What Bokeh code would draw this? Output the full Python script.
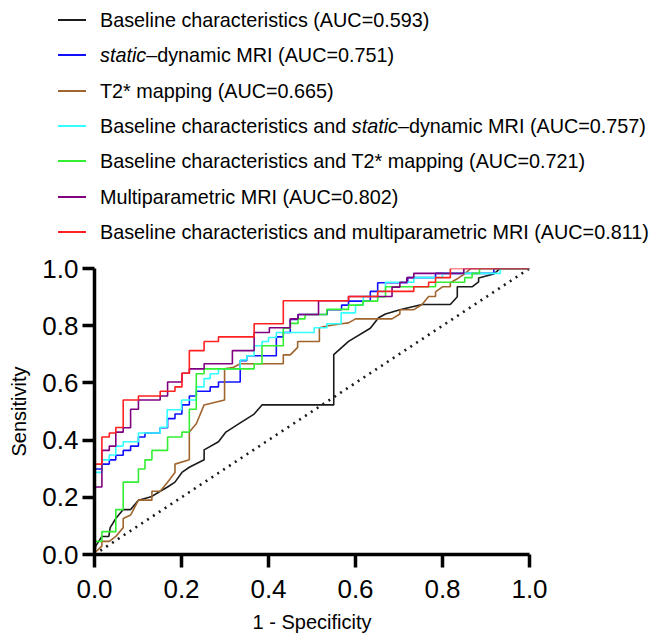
from bokeh.plotting import figure
from bokeh.layouts import column
from bokeh.models import Range1d, FixedTicker, PrintfTickFormatter, Div
from bokeh.embed import file_html
from bokeh.resources import INLINE

FONT = "Liberation Sans"

tick_values = [0.0, 0.2, 0.4, 0.6, 0.8, 1.0]

labels = [
    "Baseline characteristics (AUC=0.593)",
    "static\u2013dynamic MRI (AUC=0.751)",
    "T2* mapping (AUC=0.665)",
    "Baseline characteristics and static\u2013dynamic MRI (AUC=0.757)",
    "Baseline characteristics and T2* mapping (AUC=0.721)",
    "Multiparametric MRI (AUC=0.802)",
    "Baseline characteristics and multiparametric MRI (AUC=0.811)",
]
colors = ["#1a1a1a", "#1010ff", "#a0642d", "#33ffff", "#33ee33", "#800080", "#ff2020"]

# Baseline characteristics (polyline, has tied segments)
black_x = [0, 0.003, 0.017, 0.033, 0.036, 0.049, 0.066, 0.083, 0.101, 0.132, 0.151, 0.168, 0.185,
           0.201, 0.218, 0.252, 0.252, 0.285, 0.302, 0.335, 0.367, 0.385, 0.550, 0.550, 0.584,
           0.634, 0.653, 0.669, 0.702, 0.753, 0.818, 0.834, 0.834, 0.868, 0.883, 0.883, 0.918,
           0.933, 1.0]
black_y = [0, 0.03, 0.063, 0.063, 0.094, 0.126, 0.157, 0.157, 0.190, 0.203, 0.221, 0.236, 0.253,
           0.287, 0.305, 0.331, 0.366, 0.394, 0.428, 0.460, 0.491, 0.523, 0.523, 0.699, 0.745,
           0.791, 0.828, 0.841, 0.856, 0.874, 0.874, 0.901, 0.936, 0.936, 0.953, 0.967, 0.981,
           1.0, 1.0]

# T2* mapping (polyline)
brown_x = [0, 0.0, 0.017, 0.017, 0.034, 0.049, 0.066, 0.066, 0.083, 0.101, 0.132, 0.132, 0.151,
           0.168, 0.185, 0.185, 0.218, 0.218, 0.234, 0.252, 0.299, 0.299, 0.320, 0.335, 0.434,
           0.434, 0.450, 0.467, 0.467, 0.517, 0.517, 0.534, 0.568, 0.584, 0.600, 0.684, 0.702,
           0.702, 0.734, 0.753, 0.768, 0.784, 0.784, 0.800, 0.818, 0.818, 0.837, 0.851, 0.865, 1.0]
brown_y = [0, 0.006, 0.029, 0.046, 0.046, 0.063, 0.094, 0.126, 0.138, 0.190, 0.190, 0.221, 0.221,
           0.253, 0.287, 0.316, 0.331, 0.428, 0.457, 0.523, 0.540, 0.649, 0.655, 0.667, 0.667,
           0.698, 0.698, 0.724, 0.745, 0.745, 0.793, 0.799, 0.807, 0.810, 0.824, 0.824, 0.841,
           0.856, 0.856, 0.874, 0.902, 0.902, 0.918, 0.936, 0.936, 0.950, 0.967, 0.981, 1.0, 1.0]

# step curves: corner points (FPR where sensitivity jumps, sensitivity after jump)
blue_fpr = [0, 0, 0.017, 0.034, 0.049, 0.066, 0.083, 0.101, 0.116, 0.151, 0.168, 0.185, 0.201,
            0.218, 0.234, 0.266, 0.285, 0.335, 0.350, 0.418, 0.434, 0.450, 0.468, 0.535, 0.568,
            0.584, 0.634, 0.651, 0.720, 0.784, 0.918, 1.0]
blue_tpr = [0, 0.299, 0.316, 0.331, 0.347, 0.364, 0.379, 0.411, 0.425, 0.443, 0.475, 0.491, 0.523,
            0.554, 0.571, 0.586, 0.603, 0.678, 0.695, 0.761, 0.776, 0.822, 0.839, 0.856, 0.872,
            0.886, 0.920, 0.950, 0.968, 0.983, 1.0, 1.0]

cyan_fpr = [0, 0, 0.017, 0.034, 0.049, 0.066, 0.101, 0.151, 0.167, 0.200, 0.234, 0.252, 0.266,
            0.285, 0.335, 0.350, 0.367, 0.385, 0.400, 0.418, 0.505, 0.534, 0.567, 0.600, 0.618,
            0.651, 0.669, 0.734, 0.800, 0.933, 1.0]
cyan_tpr = [0, 0.287, 0.331, 0.348, 0.379, 0.394, 0.425, 0.445, 0.506, 0.540, 0.586, 0.615, 0.632,
            0.649, 0.680, 0.695, 0.730, 0.745, 0.759, 0.776, 0.793, 0.807, 0.845, 0.872, 0.902,
            0.920, 0.952, 0.968, 0.983, 1.0, 1.0]

green_fpr = [0, 0, 0.017, 0.049, 0.066, 0.101, 0.116, 0.132, 0.168, 0.201, 0.218, 0.234, 0.252,
             0.367, 0.385, 0.434, 0.450, 0.468, 0.484, 0.534, 0.584, 0.617, 0.651, 0.669, 0.784,
             0.851, 0.868, 0.885, 1.0]
green_tpr = [0, 0.046, 0.080, 0.157, 0.253, 0.299, 0.331, 0.364, 0.411, 0.428, 0.508, 0.632, 0.649,
             0.667, 0.730, 0.791, 0.808, 0.824, 0.839, 0.857, 0.872, 0.886, 0.901, 0.936, 0.952,
             0.968, 0.983, 1.0, 1.0]

purple_fpr = [0, 0, 0.017, 0.034, 0.049, 0.066, 0.083, 0.101, 0.151, 0.168, 0.201, 0.218, 0.252,
              0.317, 0.367, 0.402, 0.450, 0.468, 0.515, 0.584, 0.684, 0.702, 0.718, 0.734, 0.849, 1.0]
purple_tpr = [0, 0.236, 0.364, 0.379, 0.428, 0.443, 0.508, 0.540, 0.554, 0.603, 0.634, 0.649, 0.667,
              0.713, 0.776, 0.793, 0.824, 0.839, 0.887, 0.902, 0.935, 0.952, 0.968, 0.983, 1.0, 1.0]

red_fpr = [0, 0, 0.017, 0.034, 0.049, 0.066, 0.101, 0.151, 0.185, 0.201, 0.218, 0.252, 0.285,
           0.367, 0.434, 0.584, 0.651, 0.734, 0.768, 0.784, 0.818, 1.0]
red_tpr = [0, 0.316, 0.411, 0.425, 0.444, 0.540, 0.554, 0.571, 0.586, 0.634, 0.713, 0.745, 0.761,
           0.807, 0.887, 0.902, 0.920, 0.936, 0.952, 0.968, 1.0, 1.0]

ref_x = [0, 1]
ref_y = [0, 1]

W = 656
LEG_H = 250

# ---------- legend block (HTML, so that "static" can be italic) ----------
rows = []
for i, (lab, col) in enumerate(zip(labels, colors)):
    cy = round(20 + i * 35.33)
    html_lab = lab.replace("static", "<i>static</i>")
    rows.append(
        f'<div style="position:absolute;left:58px;top:{cy - 1}px;width:28px;height:2px;'
        f'background-color:{col};"></div>'
    )
    rows.append(
        f'<div style="position:absolute;left:100px;top:{cy - 12}px;height:24px;'
        f'line-height:24px;white-space:nowrap;">{html_lab}</div>'
    )
legend_html = (
    f'<div style="position:relative;width:{W}px;height:{LEG_H}px;'
    f"font-family:'{FONT}',Arial,sans-serif;font-size:19.8px;color:#000;\">"
    + "".join(rows) + "</div>"
)
leg = Div(text=legend_html, width=W, height=LEG_H, margin=(0, 0, 0, 0))

# ---------- ROC plot ----------
p = figure(width=W, height=635 - LEG_H, output_backend="svg", toolbar_location=None,
           x_range=Range1d(0, 1), y_range=Range1d(0, 1),
           min_border_left=94, min_border_right=127, min_border_top=18, min_border_bottom=77)
p.outline_line_color = None
p.xgrid.visible = False
p.ygrid.visible = False

p.line(ref_x, ref_y, line_color="#1a1a1a", line_width=2.6, line_dash="2 5")

w = 1.6
p.line(black_x, black_y, line_color=colors[0], line_width=w)
p.step(blue_fpr, blue_tpr, mode="after", line_color=colors[1], line_width=w)
p.line(brown_x, brown_y, line_color=colors[2], line_width=w)
p.step(cyan_fpr, cyan_tpr, mode="after", line_color=colors[3], line_width=w)
p.step(green_fpr, green_tpr, mode="after", line_color=colors[4], line_width=w)
p.step(purple_fpr, purple_tpr, mode="after", line_color=colors[5], line_width=w)
p.step(red_fpr, red_tpr, mode="after", line_color=colors[6], line_width=w)

for ax in (p.xaxis[0], p.yaxis[0]):
    ax.ticker = FixedTicker(ticks=tick_values)
    ax.formatter = PrintfTickFormatter(format="%.1f")
    ax.axis_line_width = 3.5
    ax.axis_line_color = "black"
    ax.major_tick_line_width = 3.5
    ax.major_tick_line_color = "black"
    ax.major_tick_in = 0
    ax.minor_tick_in = 0
    ax.minor_tick_out = 0
    ax.major_label_text_font = FONT
    ax.major_label_text_font_size = "26px"
    ax.major_label_text_color = "black"
    ax.axis_label_text_font = FONT
    ax.axis_label_text_font_size = "20px"
    ax.axis_label_text_font_style = "normal"
    ax.axis_label_text_color = "black"

p.xaxis.axis_label = "1 - Specificity"
p.yaxis.axis_label = "Sensitivity"
p.xaxis.major_tick_out = 13
p.xaxis.major_label_standoff = 12
p.xaxis.axis_label_standoff = 10
p.yaxis.major_tick_out = 12
p.yaxis.major_label_standoff = 4
p.yaxis.axis_label_standoff = 9

layout = column(leg, p, spacing=0)
open("out.html", "w").write(file_html(layout, INLINE))
